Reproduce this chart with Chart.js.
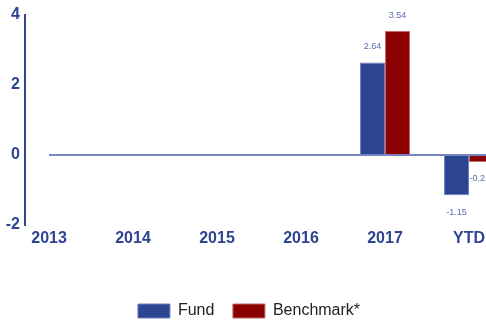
<!DOCTYPE html>
<html>
<head>
<meta charset="utf-8">
<script src="https://cdn.jsdelivr.net/npm/chart.js@4/dist/chart.umd.min.js"></script>
<style>
  html, body { margin: 0; padding: 0; background: #fff; overflow: hidden; }
  #wrap { position: relative; width: 498px; height: 329px; }
</style>
</head>
<body>
<div id="wrap"><canvas id="perfChart"></canvas></div>
<script>
// calendar year returns, %
const years = ['2013', '2014', '2015', '2016', '2017', 'YTD'];
const fundReturns = [null, null, null, null, 2.64, -1.15];
const benchmarkReturns = [null, null, null, null, 3.54, -0.2];
const yTicks = [-2, 0, 2, 4];

const navy = '#2d4592';
const fontFamily = '"Liberation Sans", Arial, sans-serif';

const toPoints = (values) => values.map((v, i) => ({x: i, y: v}));

// value labels above / below each bar, kept inside the visible width
const barLabels = {
  id: 'barLabels',
  afterDatasetsDraw(chart) {
    const ctx = chart.ctx;
    const visibleRight = Math.min(chart.width, window.innerWidth);
    ctx.save();
    ctx.font = '9px ' + fontFamily;
    ctx.fillStyle = '#5a6cb0';
    ctx.textAlign = 'center';
    ctx.textBaseline = 'middle';
    chart.data.datasets.forEach((ds, di) => {
      const meta = chart.getDatasetMeta(di);
      meta.data.forEach((bar, i) => {
        const v = ds.data[i].y;
        if (v === null) return;
        const text = String(v);
        const half = ctx.measureText(text).width / 2;
        const x = Math.min(bar.x, visibleRight - half - 1);
        const y = v >= 0 ? bar.y - 16 : bar.y + 17;
        ctx.fillText(text, x, y);
      });
    });
    ctx.restore();
  }
};

// baseline at zero, from the first year out to the right edge
const zeroLine = {
  id: 'zeroLine',
  afterDatasetsDraw(chart) {
    const {ctx, chartArea, scales} = chart;
    const y = scales.y.getPixelForValue(0);
    ctx.save();
    ctx.strokeStyle = '#7584c2';
    ctx.lineWidth = 2;
    ctx.beginPath();
    ctx.moveTo(scales.x.getPixelForValue(0), y);
    ctx.lineTo(chartArea.right, y);
    ctx.stroke();
    ctx.restore();
  }
};

new Chart(document.getElementById('perfChart'), {
  type: 'bar',
  data: {
    datasets: [
      {
        label: 'Fund',
        data: toPoints(fundReturns),
        backgroundColor: '#2c4592',
        borderColor: '#7080c0',
        borderWidth: 1
      },
      {
        label: 'Benchmark*',
        data: toPoints(benchmarkReturns),
        backgroundColor: '#8b0000',
        borderColor: '#c06a6a',
        borderWidth: 1
      }
    ]
  },
  options: {
    responsive: true,
    maintainAspectRatio: false,
    animation: false,
    categoryPercentage: 0.595,
    barPercentage: 1,
    layout: { padding: { top: 15, left: 0, right: 0, bottom: 0 } },
    plugins: {
      legend: {
        position: 'bottom',
        labels: {
          boxWidth: 32,
          boxHeight: 14,
          padding: 18.5,
          color: '#222',
          font: { family: fontFamily, size: 16 }
        }
      },
      tooltip: { enabled: false }
    },
    scales: {
      x: {
        type: 'linear',
        offset: false,
        min: -0.286,
        max: 5.345,
        grid: { display: false, drawTicks: false },
        border: { display: false },
        afterFit: (scale) => {
          scale.height = 59.5;
          scale.paddingLeft = 0;
          scale.paddingRight = 0;
        },
        ticks: {
          stepSize: 1,
          includeBounds: false,
          autoSkip: false,
          maxRotation: 0,
          padding: 4,
          color: navy,
          font: { family: fontFamily, size: 16, weight: 'bold' },
          callback: (v) => years[v]
        }
      },
      y: {
        min: yTicks[0],
        max: yTicks[yTicks.length - 1],
        grid: { display: false, drawTicks: false },
        border: { display: true, color: navy, width: 2 },
        afterFit: (scale) => {
          scale.width = 25;
          scale.paddingTop = 0;
          scale.paddingBottom = 0;
        },
        afterBuildTicks: (scale) => { scale.ticks = yTicks.map(v => ({value: v})); },
        ticks: {
          padding: 5,
          color: navy,
          font: { family: fontFamily, size: 16, weight: 'bold' }
        }
      }
    }
  },
  plugins: [zeroLine, barLabels]
});
</script>
</body>
</html>
